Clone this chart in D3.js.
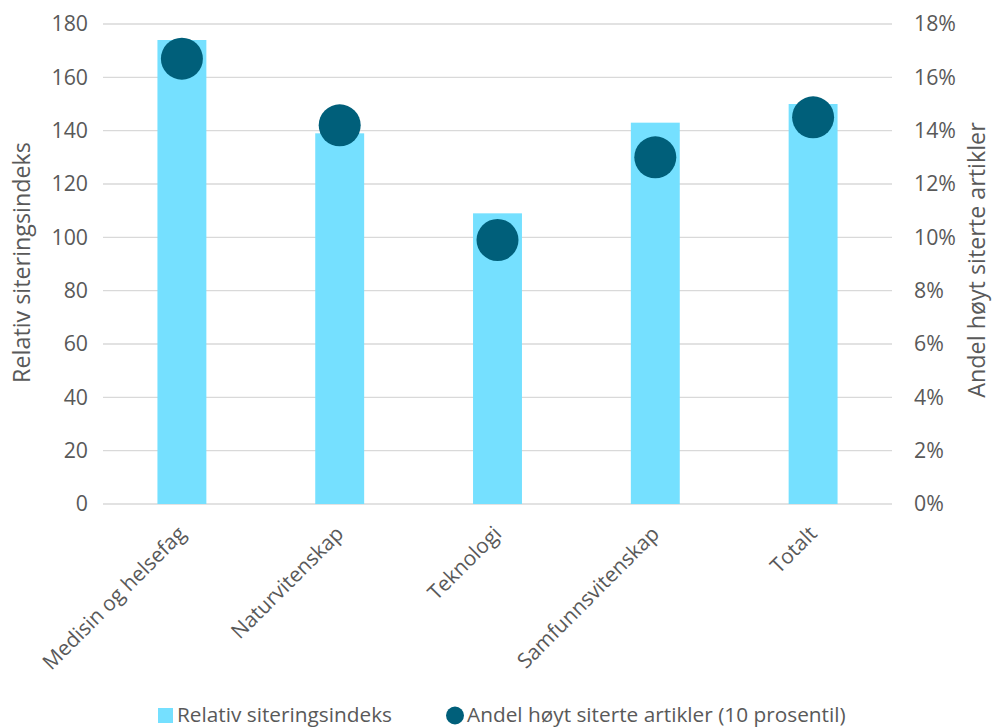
<!DOCTYPE html>
<html><head><meta charset="utf-8">
<script src="https://cdn.jsdelivr.net/npm/d3@7"></script>
<style>body{margin:0;background:#fff}svg{display:block}</style>
</head><body><svg id="c" width="993" height="727"></svg>
<script>
const categories = ["Medisin og helsefag","Naturvitenskap","Teknologi","Samfunnsvitenskap","Totalt"];
const relIndex = [174,139,109,143,150];
const highShare = [0.167,0.142,0.099,0.130,0.145];
const leftTicks = [0,20,40,60,80,100,120,140,160,180];
const rightTicks = [0,0.02,0.04,0.06,0.08,0.10,0.12,0.14,0.16,0.18];
const seriesNames = ["Relativ siteringsindeks","Andel høyt siterte artikler (10 prosentil)"];

const font = "'Open Sans', sans-serif";
const txt = "#595959";
const fs = 21.3;
const svg = d3.select("#c");
const L=103, R=892, T=24, B=504;
const x = d3.scaleBand().domain(categories).range([L,R]).paddingInner(0.69).paddingOuter(0.345);
const yL = d3.scaleLinear().domain([0,180]).range([B,T]);
const yR = d3.scaleLinear().domain([0,0.18]).range([B,T]);

svg.append("g").selectAll("line").data(leftTicks).join("line")
  .attr("x1",L).attr("x2",R).attr("y1",d=>yL(d)).attr("y2",d=>yL(d))
  .attr("stroke","#d9d9d9").attr("stroke-width",1.3);

svg.append("g").selectAll("rect").data(categories).join("rect")
  .attr("x",d=>x(d)).attr("width",x.bandwidth())
  .attr("y",(d,i)=>yL(relIndex[i])).attr("height",(d,i)=>B-yL(relIndex[i]))
  .attr("fill","#75e0ff");

svg.append("g").selectAll("circle").data(categories).join("circle")
  .attr("cx",d=>x(d)+x.bandwidth()/2).attr("cy",(d,i)=>yR(highShare[i])).attr("r",21)
  .attr("fill","#005f7a");

const la = svg.append("g").attr("transform",`translate(${L},0)`)
  .call(d3.axisLeft(yL).tickValues(leftTicks).tickSize(0).tickPadding(15));
la.select(".domain").remove();
la.selectAll("text").attr("font-family",font).attr("font-size",fs).attr("fill",txt);

const ra = svg.append("g").attr("transform",`translate(${R},0)`)
  .call(d3.axisRight(yR).tickValues(rightTicks).tickFormat(d3.format(".0%")).tickSize(0).tickPadding(22));
ra.select(".domain").remove();
ra.selectAll("text").attr("font-family",font).attr("font-size",fs).attr("fill",txt);

const ba = svg.append("g").attr("transform",`translate(0,${B})`)
  .call(d3.axisBottom(x).tickSize(0));
ba.select(".domain").remove();
ba.selectAll("text").attr("font-family",font).attr("font-size",20.8).attr("fill",txt)
  .attr("text-anchor","end").attr("dy",0)
  .attr("transform","translate(3,29) rotate(-45)");

svg.append("text").attr("transform",`translate(30,${262.5}) rotate(-90)`)
  .attr("text-anchor","middle").attr("font-family",font).attr("font-size",23.3).attr("fill",txt)
  .text("Relativ siteringsindeks");
svg.append("text").attr("transform",`translate(985,${260}) rotate(-90)`)
  .attr("text-anchor","middle").attr("font-family",font).attr("font-size",23.3).attr("fill",txt)
  .text("Andel høyt siterte artikler");

const lg = svg.append("g").attr("font-family",font).attr("font-size",20.8).attr("fill",txt);
lg.append("rect").attr("x",158).attr("y",708).attr("width",15).attr("height",15).attr("fill","#75e0ff");
lg.append("text").attr("x",177).attr("y",722).text(seriesNames[0]);
lg.append("circle").attr("cx",455).attr("cy",715.5).attr("r",9).attr("fill","#005f7a");
lg.append("text").attr("x",467).attr("y",722).text(seriesNames[1]);
</script></body></html>
